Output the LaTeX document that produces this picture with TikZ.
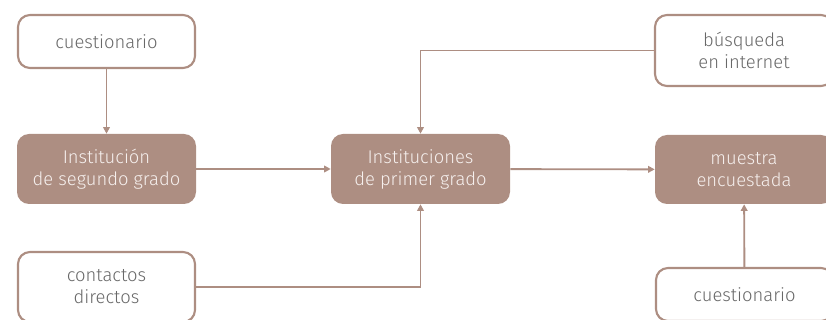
\documentclass[tikz,border=0pt]{standalone}
\usepackage{fontspec}
\setmainfont{Fira Sans}[UprightFont=* Light]
\usetikzlibrary{arrows.meta}
\definecolor{taupe}{HTML}{AD8E82}
\definecolor{txtgray}{HTML}{686868}
\definecolor{txtlight}{HTML}{F6F0EE}
\tikzset{
  outbox/.style={draw=taupe, line width=1.6pt, fill=white, rounded corners=9pt,
    text=txtgray, align=center, font=\fontsize{13.8}{16.5}\selectfont, inner sep=0pt},
  filledbox/.style={fill=taupe, rounded corners=9pt, text=txtlight, align=center,
    font=\fontsize{13.8}{16.5}\selectfont, inner sep=0pt},
  conn/.style={draw=taupe, line width=1.4pt, -{Triangle[length=5pt,width=5pt]}},
}
\begin{document}
\begin{tikzpicture}[x=0.75pt,y=-0.75pt]
\useasboundingbox (0,0) rectangle (826,320);
\clip (0,0) rectangle (826,320);
\node[outbox, minimum width=132.75pt, minimum height=39.75pt] (q1) at (106.5,41.5) {cuestionario};
\node[filledbox, minimum width=134.25pt, minimum height=52.5pt] (inst2) at (106.5,169) {Institución\\de segundo grado};
\node[filledbox, minimum width=134.25pt, minimum height=52.5pt] (inst1) at (420.5,169) {Instituciones\\de primer grado};
\node[filledbox, minimum width=133.5pt, minimum height=51.75pt] (mues) at (744,169.5) {muestra\\encuestada};
\node[outbox, minimum width=133.5pt, minimum height=53.25pt] (busq) at (744,50.5) {búsqueda\\en internet};
\node[outbox, minimum width=132.75pt, minimum height=52.5pt] (cont) at (106.5,287) {contactos\\directos};
\node[outbox, minimum width=132.75pt, minimum height=39.75pt] (q2) at (744.5,294.5) {cuestionario};
\draw[conn] (q1) -- (inst2);
\draw[conn] (inst2) -- (inst1);
\draw[conn] (inst1) -- (mues);
\draw[conn] (busq.west) -| (inst1.north);
\draw[conn] (cont.east) -| (inst1.south);
\draw[conn] (q2) -- (mues);
\end{tikzpicture}
\end{document}
